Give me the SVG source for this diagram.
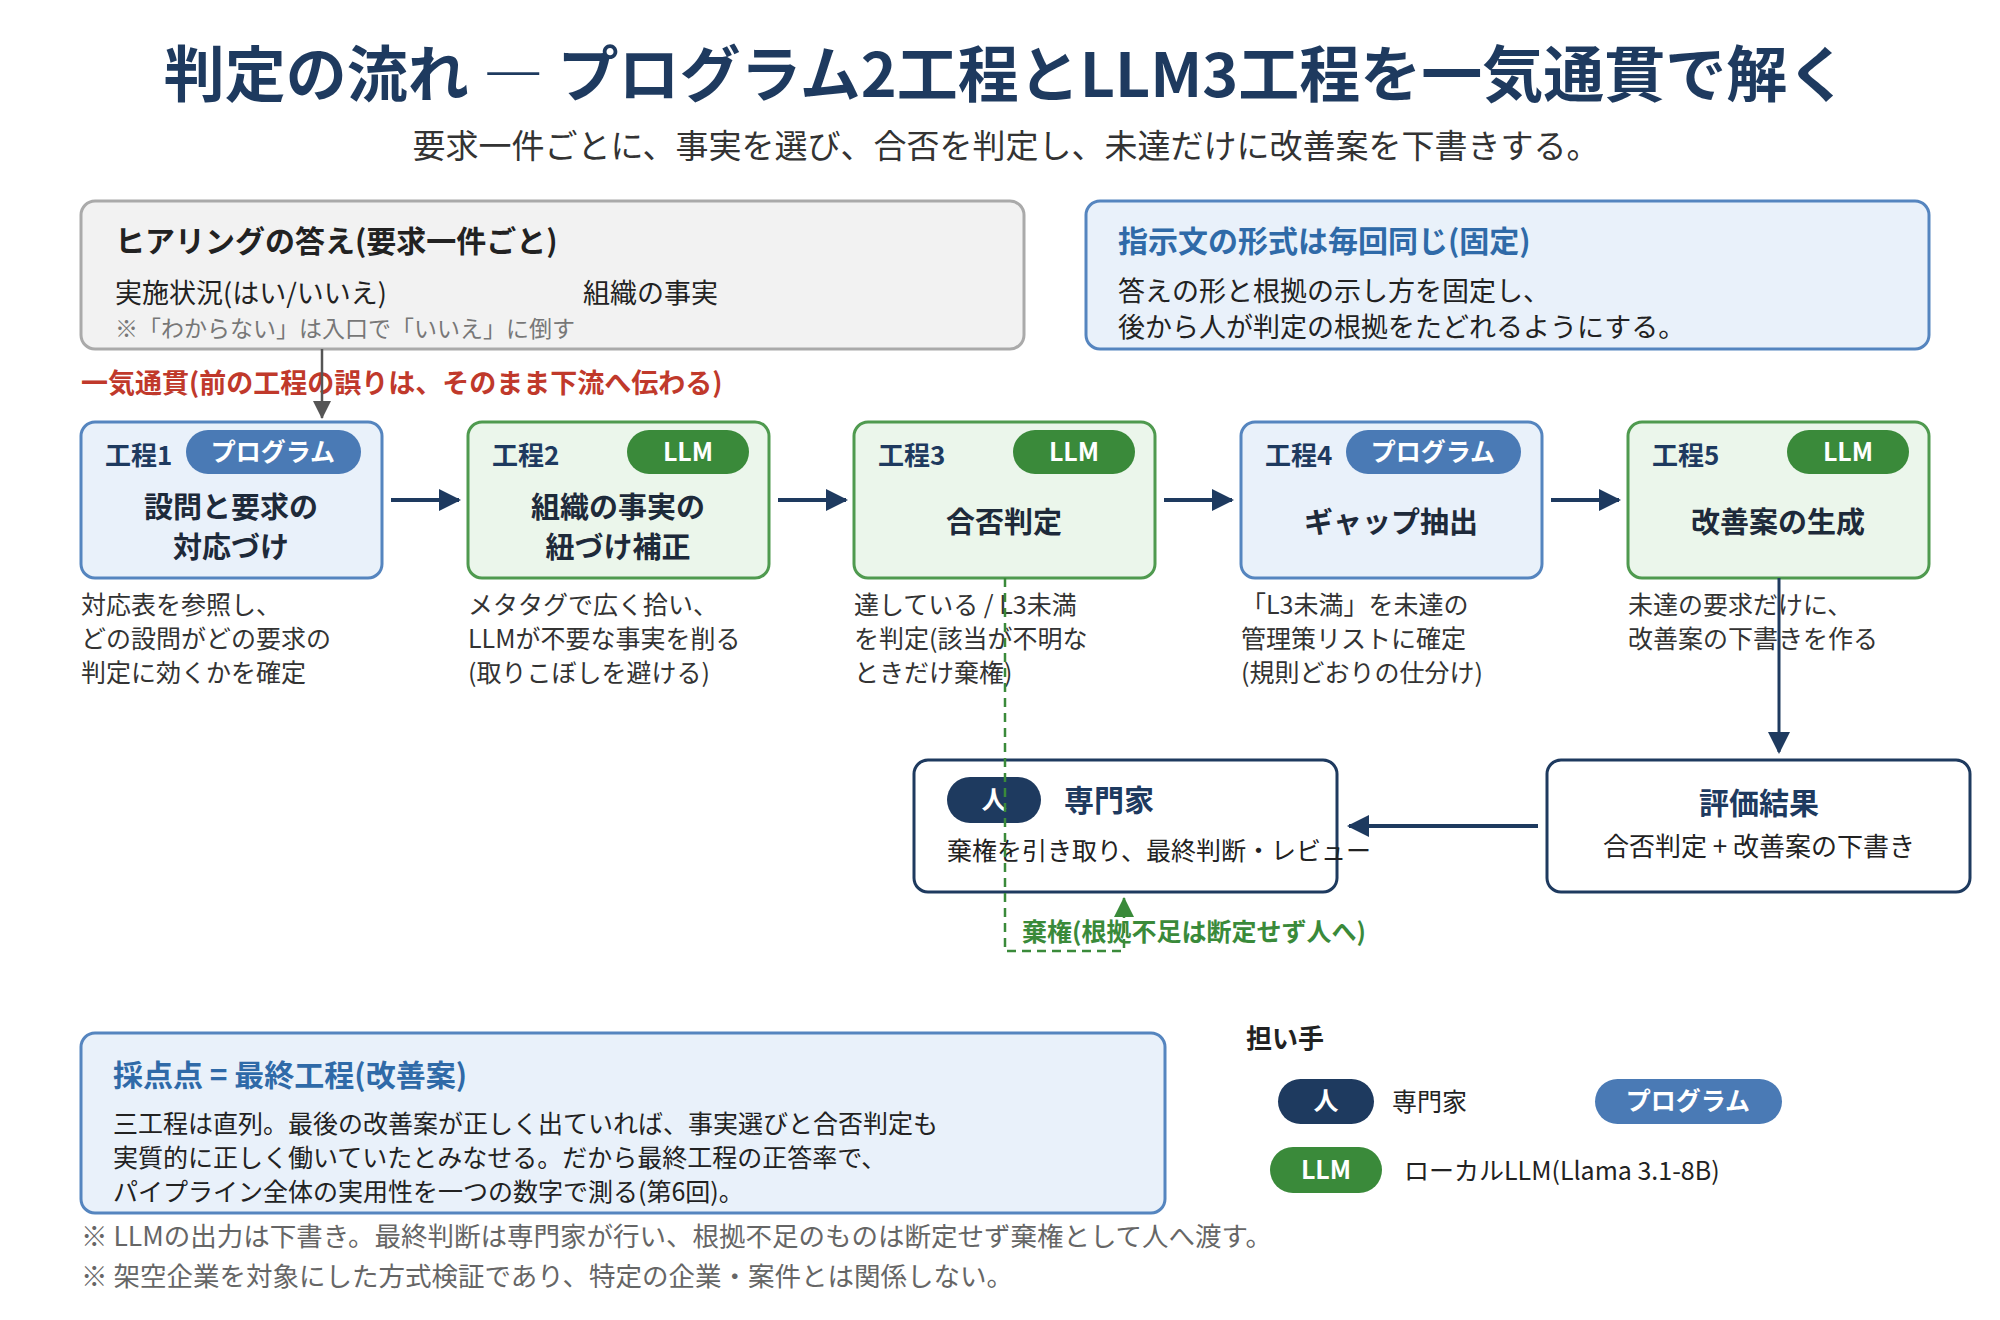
<svg xmlns="http://www.w3.org/2000/svg" width="2000" height="1320" viewBox="0 0 2000 1320">
<style>
text{font-family:"Noto Sans CJK JP","Noto Sans",sans-serif;fill:#222}
.b{font-weight:bold}
.pill{font-size:25px;font-weight:bold;fill:#fff;text-anchor:middle}
.prog{fill:#4a7ab5}.llm{fill:#3a8a3a}.hum{fill:#1e3a5f}
.bx{fill:#e9f1fa;stroke:#5585bf;stroke-width:3}
.gx{fill:#ebf6eb;stroke:#4f9a4f;stroke-width:3}
.st{font-size:26px;font-weight:bold;fill:#1e3a5f}
.mt{font-size:29px;font-weight:bold;fill:#1e2a3a;text-anchor:middle}
.d{font-size:25px;fill:#333}
.c{text-anchor:middle}
</style>
<defs>
<marker id="an" markerWidth="22" markerHeight="22" refX="20" refY="11" orient="auto" markerUnits="userSpaceOnUse" viewBox="0 0 22 22"><path d="M0,0L22,11L0,22z" fill="#1e3a5f"/></marker>
<marker id="ag" markerWidth="18" markerHeight="18" refX="17" refY="9" orient="auto" markerUnits="userSpaceOnUse" viewBox="0 0 18 18"><path d="M0,0L18,9L0,18z" fill="#555"/></marker>
<marker id="agr" markerWidth="20" markerHeight="20" refX="19" refY="10" orient="auto" markerUnits="userSpaceOnUse" viewBox="0 0 20 20"><path d="M0,0L20,10L0,20z" fill="#3a8a3a"/></marker>
</defs>
<rect width="2000" height="1320" fill="#fff"/>
<text x="1006" y="97" class="b c" font-size="61" style="fill:#1e3a5f">判定の流れ ― プログラム2工程とLLM3工程を一気通貫で解く</text>
<text x="1006" y="158" class="c" font-size="33" style="fill:#333">要求一件ごとに、事実を選び、合否を判定し、未達だけに改善案を下書きする。</text>

<g id="hearing">
<rect x="81" y="201" width="943" height="148" rx="14" fill="#f2f2f2" stroke="#aaa" stroke-width="3"/>
<text x="115" y="252" class="b" font-size="30">ヒアリングの答え(要求一件ごと)</text>
<text x="115" y="303" font-size="27">実施状況(はい/いいえ)</text>
<text x="583" y="303" font-size="27">組織の事実</text>
<text x="115" y="337" font-size="23" style="fill:#777">※「わからない」は入口で「いいえ」に倒す</text>
</g>
<g id="format">
<rect x="1086" y="201" width="843" height="148" rx="14" class="bx"/>
<text x="1118" y="252" class="b" font-size="30" style="fill:#2f6aa8">指示文の形式は毎回同じ(固定)</text>
<text x="1118" y="301" font-size="27">答えの形と根拠の示し方を固定し、</text>
<text x="1118" y="337" font-size="27">後から人が判定の根拠をたどれるようにする。</text>
</g>
<text x="81" y="393" class="b" font-size="27" style="fill:#c0392b">一気通貫(前の工程の誤りは、そのまま下流へ伝わる)</text>

<g id="s1"><rect x="81" y="422" width="301" height="156" rx="14" class="bx"/>
<text x="105" y="465" class="st">工程1</text><rect x="186" y="430" width="175" height="44" rx="22" class="prog"/><text x="273" y="461" class="pill">プログラム</text>
<text x="231" y="518" class="mt">設問と要求の</text><text x="231" y="558" class="mt">対応づけ</text>
<text x="81" y="614" class="d">対応表を参照し、</text><text x="81" y="648" class="d">どの設問がどの要求の</text><text x="81" y="682" class="d">判定に効くかを確定</text></g>
<g id="s2"><rect x="468" y="422" width="301" height="156" rx="14" class="gx"/>
<text x="492" y="465" class="st">工程2</text><rect x="627" y="430" width="122" height="44" rx="22" class="llm"/><text x="688" y="461" class="pill">LLM</text>
<text x="618" y="518" class="mt">組織の事実の</text><text x="618" y="558" class="mt">紐づけ補正</text>
<text x="468" y="614" class="d">メタタグで広く拾い、</text><text x="468" y="648" class="d">LLMが不要な事実を削る</text><text x="468" y="682" class="d">(取りこぼしを避ける)</text></g>
<g id="s3"><rect x="854" y="422" width="301" height="156" rx="14" class="gx"/>
<text x="878" y="465" class="st">工程3</text><rect x="1013" y="430" width="122" height="44" rx="22" class="llm"/><text x="1074" y="461" class="pill">LLM</text>
<text x="1004" y="533" class="mt">合否判定</text>
<text x="854" y="614" class="d">達している / L3未満</text><text x="854" y="648" class="d">を判定(該当が不明な</text><text x="854" y="682" class="d">ときだけ棄権)</text></g>
<g id="s4"><rect x="1241" y="422" width="301" height="156" rx="14" class="bx"/>
<text x="1265" y="465" class="st">工程4</text><rect x="1346" y="430" width="175" height="44" rx="22" class="prog"/><text x="1433" y="461" class="pill">プログラム</text>
<text x="1391" y="533" class="mt">ギャップ抽出</text>
<text x="1241" y="614" class="d">「L3未満」を未達の</text><text x="1241" y="648" class="d">管理策リストに確定</text><text x="1241" y="682" class="d">(規則どおりの仕分け)</text></g>
<g id="s5"><rect x="1628" y="422" width="301" height="156" rx="14" class="gx"/>
<text x="1652" y="465" class="st">工程5</text><rect x="1787" y="430" width="122" height="44" rx="22" class="llm"/><text x="1848" y="461" class="pill">LLM</text>
<text x="1778" y="533" class="mt">改善案の生成</text>
<text x="1628" y="614" class="d">未達の要求だけに、</text><text x="1628" y="648" class="d">改善案の下書きを作る</text></g>

<g id="eval"><rect x="1547" y="760" width="423" height="132" rx="14" fill="#fff" stroke="#1e3a5f" stroke-width="3"/>
<text x="1759" y="814" class="b c" font-size="30" style="fill:#1e3a5f">評価結果</text>
<text x="1759" y="856" class="c" font-size="26">合否判定 + 改善案の下書き</text></g>
<g id="expert"><rect x="914" y="760" width="423" height="132" rx="14" fill="#fff" stroke="#1e3a5f" stroke-width="3"/>
<rect x="947" y="777" width="94" height="46" rx="23" class="hum"/><text x="994" y="809" class="pill">人</text>
<text x="1064" y="811" class="b" font-size="30" style="fill:#1e3a5f">専門家</text>
<text x="947" y="860" font-size="25">棄権を引き取り、最終判断・レビュー</text></g>

<g id="connectors" fill="none">
<line x1="322" y1="349" x2="322" y2="418" stroke="#555" stroke-width="2.5" marker-end="url(#ag)"/>
<g stroke="#1e3a5f" stroke-width="4">
<line x1="391" y1="500" x2="459" y2="500" marker-end="url(#an)"/>
<line x1="778" y1="500" x2="846" y2="500" marker-end="url(#an)"/>
<line x1="1164" y1="500" x2="1232" y2="500" marker-end="url(#an)"/>
<line x1="1551" y1="500" x2="1619" y2="500" marker-end="url(#an)"/>
<line x1="1779" y1="578" x2="1779" y2="752" stroke-width="3" marker-end="url(#an)"/>
<line x1="1538" y1="826" x2="1349" y2="826" marker-end="url(#an)"/>
</g>
<polyline points="1005,578 1005,951 1124,951 1124,898" stroke="#3a8a3a" stroke-width="2.5" stroke-dasharray="9,6" marker-end="url(#agr)"/>
</g>
<text x="1022" y="941" class="b" font-size="25" style="fill:#3a8a3a">棄権(根拠不足は断定せず人へ)</text>

<g id="score"><rect x="81" y="1033" width="1084" height="180" rx="14" class="bx"/>
<text x="113" y="1086" class="b" font-size="30" style="fill:#2f6aa8">採点点 = 最終工程(改善案)</text>
<text x="113" y="1133" font-size="25">三工程は直列。最後の改善案が正しく出ていれば、事実選びと合否判定も</text>
<text x="113" y="1167" font-size="25">実質的に正しく働いていたとみなせる。だから最終工程の正答率で、</text>
<text x="113" y="1201" font-size="25">パイプライン全体の実用性を一つの数字で測る(第6回)。</text></g>
<text x="81" y="1246" font-size="26.5" style="fill:#666">※ LLMの出力は下書き。最終判断は専門家が行い、根拠不足のものは断定せず棄権として人へ渡す。</text>
<text x="81" y="1286" font-size="26.5" style="fill:#666">※ 架空企業を対象にした方式検証であり、特定の企業・案件とは関係しない。</text>

<g id="legend">
<text x="1246" y="1048" class="b" font-size="26">担い手</text>
<rect x="1278" y="1079" width="96" height="45" rx="22.5" class="hum"/><text x="1326" y="1110" class="pill">人</text>
<text x="1392" y="1111" font-size="25">専門家</text>
<rect x="1595" y="1079" width="187" height="45" rx="22.5" class="prog"/><text x="1688" y="1110" class="pill">プログラム</text>
<rect x="1270" y="1147" width="112" height="46" rx="23" class="llm"/><text x="1326" y="1179" class="pill">LLM</text>
<text x="1404" y="1180" font-size="25">ローカルLLM(Llama 3.1-8B)</text>
</g>
</svg>
